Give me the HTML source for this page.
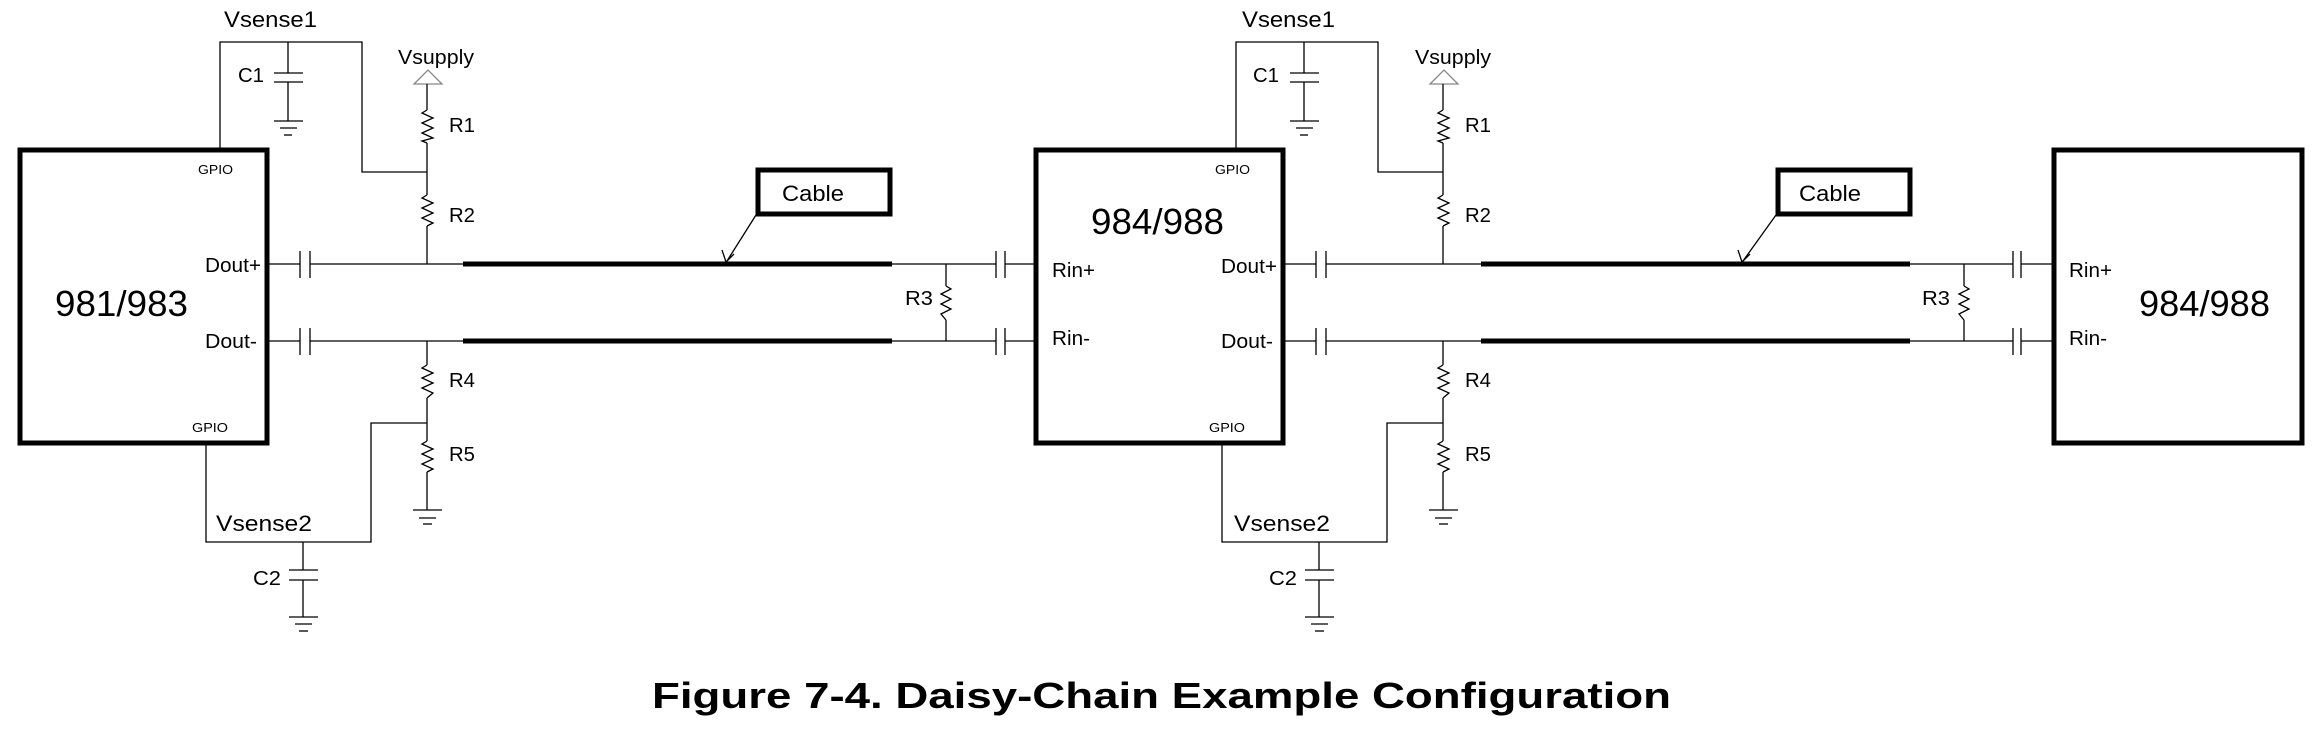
<!DOCTYPE html>
<html><head><meta charset="utf-8"><style>
html,body{margin:0;padding:0;background:#fff;}
svg{display:block;}
text{font-family:"Liberation Sans",Arial,sans-serif;fill:#000;}
</style></head><body>
<svg width="2323" height="731" viewBox="0 0 2323 731" xmlns="http://www.w3.org/2000/svg">
<defs></defs>
<g id="s1" stroke="#000" stroke-width="1.3" fill="none">
  <!-- chip box -->
  <rect x="20" y="150" width="247" height="293" stroke-width="5"/>
  <!-- Vsense1 wire -->
  <polyline points="220,148 220,42 362,42 362,172 427,172"/>
  <!-- C1 -->
  <line x1="288" y1="42" x2="288" y2="73"/>
  <line x1="274" y1="73" x2="303" y2="73"/>
  <line x1="274" y1="82" x2="303" y2="82"/>
  <line x1="288" y1="82" x2="288" y2="121"/>
  <line x1="274" y1="121" x2="303" y2="121"/>
  <line x1="280" y1="128" x2="297" y2="128"/>
  <line x1="284" y1="135" x2="292" y2="135"/>
  <!-- Vsupply -->
  <polygon points="414,84 442,84 428,70" stroke="#888"/>
  <line x1="427" y1="84" x2="427" y2="110"/>
  <polyline points="427,110 422,113 433,118 422,123 433,128 422,133 433,138 422,141 427,143"/>
  <line x1="427" y1="143" x2="427" y2="195"/>
  <polyline points="427,195 422,198 433,203 422,208 433,213 422,218 433,223 427,226"/>
  <line x1="427" y1="226" x2="427" y2="264"/>
  <!-- Dout+ line -->
  <line x1="267" y1="264" x2="300" y2="264"/>
  <line x1="300" y1="251" x2="300" y2="278"/>
  <line x1="310" y1="251" x2="310" y2="278"/>
  <line x1="310" y1="264" x2="463" y2="264"/>
  <!-- Dout- line -->
  <line x1="267" y1="341" x2="300" y2="341"/>
  <line x1="300" y1="328" x2="300" y2="355"/>
  <line x1="310" y1="328" x2="310" y2="355"/>
  <line x1="310" y1="341" x2="463" y2="341"/>
  <!-- R4/R5 -->
  <line x1="427" y1="341" x2="427" y2="365"/>
  <polyline points="427,365 422,368 433,373 422,378 433,383 422,388 433,393 427,398"/>
  <line x1="427" y1="398" x2="427" y2="441"/>
  <polyline points="427,441 422,444 433,449 422,454 433,459 422,464 433,469 427,472"/>
  <line x1="427" y1="472" x2="427" y2="510"/>
  <line x1="413" y1="510" x2="442" y2="510"/>
  <line x1="419" y1="518" x2="436" y2="518"/>
  <line x1="423" y1="524" x2="432" y2="524"/>
  <!-- Vsense2 -->
  <polyline points="427,423 371,423 371,542 206,542 206,444"/>
  <!-- C2 -->
  <line x1="303" y1="542" x2="303" y2="570"/>
  <line x1="289" y1="570" x2="318" y2="570"/>
  <line x1="289" y1="580" x2="318" y2="580"/>
  <line x1="303" y1="580" x2="303" y2="617"/>
  <line x1="289" y1="617" x2="318" y2="617"/>
  <line x1="295" y1="624" x2="312" y2="624"/>
  <line x1="299" y1="631" x2="308" y2="631"/>
  <!-- cable -->
  <line x1="463" y1="264" x2="892" y2="264" stroke-width="5"/>
  <line x1="463" y1="341" x2="892" y2="341" stroke-width="5"/>
  <rect x="758" y="170" width="132" height="44" stroke-width="5"/>
  <line x1="756" y1="215" x2="727" y2="261"/>
  <polyline points="722,250 726,262 734,254"/>
  <!-- receiver side -->
  <line x1="892" y1="264" x2="996" y2="264"/>
  <line x1="892" y1="341" x2="996" y2="341"/>
  <line x1="996" y1="251" x2="996" y2="278"/>
  <line x1="1005" y1="251" x2="1005" y2="278"/>
  <line x1="996" y1="328" x2="996" y2="355"/>
  <line x1="1005" y1="328" x2="1005" y2="355"/>
  <line x1="1005" y1="264" x2="1034" y2="264"/>
  <line x1="1005" y1="341" x2="1034" y2="341"/>
  <line x1="946" y1="264" x2="946" y2="286"/>
  <polyline points="946,286 951,289 941,294 951,299 941,304 951,309 941,314 946,320"/>
  <line x1="946" y1="320" x2="946" y2="341"/>
</g>
<g transform="translate(1016,0)">
<g stroke="#000" stroke-width="1.3" fill="none">
  <rect x="20" y="150" width="247" height="293" stroke-width="5"/>
  <polyline points="220,148 220,42 362,42 362,172 427,172"/>
  <line x1="288" y1="42" x2="288" y2="73"/>
  <line x1="274" y1="73" x2="303" y2="73"/>
  <line x1="274" y1="82" x2="303" y2="82"/>
  <line x1="288" y1="82" x2="288" y2="121"/>
  <line x1="274" y1="121" x2="303" y2="121"/>
  <line x1="280" y1="128" x2="297" y2="128"/>
  <line x1="284" y1="135" x2="292" y2="135"/>
  <polygon points="414,84 442,84 428,70" stroke="#888"/>
  <line x1="427" y1="84" x2="427" y2="110"/>
  <polyline points="427,110 422,113 433,118 422,123 433,128 422,133 433,138 422,141 427,143"/>
  <line x1="427" y1="143" x2="427" y2="195"/>
  <polyline points="427,195 422,198 433,203 422,208 433,213 422,218 433,223 427,226"/>
  <line x1="427" y1="226" x2="427" y2="264"/>
  <line x1="267" y1="264" x2="300" y2="264"/>
  <line x1="300" y1="251" x2="300" y2="278"/>
  <line x1="310" y1="251" x2="310" y2="278"/>
  <line x1="310" y1="264" x2="465" y2="264"/>
  <line x1="267" y1="341" x2="300" y2="341"/>
  <line x1="300" y1="328" x2="300" y2="355"/>
  <line x1="310" y1="328" x2="310" y2="355"/>
  <line x1="310" y1="341" x2="465" y2="341"/>
  <line x1="427" y1="341" x2="427" y2="365"/>
  <polyline points="427,365 422,368 433,373 422,378 433,383 422,388 433,393 427,398"/>
  <line x1="427" y1="398" x2="427" y2="441"/>
  <polyline points="427,441 422,444 433,449 422,454 433,459 422,464 433,469 427,472"/>
  <line x1="427" y1="472" x2="427" y2="510"/>
  <line x1="413" y1="510" x2="442" y2="510"/>
  <line x1="419" y1="518" x2="436" y2="518"/>
  <line x1="423" y1="524" x2="432" y2="524"/>
  <polyline points="427,423 371,423 371,542 206,542 206,444"/>
  <line x1="303" y1="542" x2="303" y2="570"/>
  <line x1="289" y1="570" x2="318" y2="570"/>
  <line x1="289" y1="580" x2="318" y2="580"/>
  <line x1="303" y1="580" x2="303" y2="617"/>
  <line x1="289" y1="617" x2="318" y2="617"/>
  <line x1="295" y1="624" x2="312" y2="624"/>
  <line x1="299" y1="631" x2="308" y2="631"/>
  <line x1="465" y1="264" x2="894" y2="264" stroke-width="5"/>
  <line x1="465" y1="341" x2="894" y2="341" stroke-width="5"/>
  <rect x="762" y="170" width="132" height="44" stroke-width="5"/>
  <line x1="760" y1="215" x2="727" y2="261"/>
  <polyline points="722,250 726,262 734,254"/>
  <line x1="894" y1="264" x2="997" y2="264"/>
  <line x1="894" y1="341" x2="997" y2="341"/>
  <line x1="997" y1="251" x2="997" y2="278"/>
  <line x1="1005" y1="251" x2="1005" y2="278"/>
  <line x1="997" y1="328" x2="997" y2="355"/>
  <line x1="1005" y1="328" x2="1005" y2="355"/>
  <line x1="1005" y1="264" x2="1036" y2="264"/>
  <line x1="1005" y1="341" x2="1036" y2="341"/>
  <line x1="948" y1="264" x2="948" y2="286"/>
  <polyline points="948,286 953,289 943,294 953,299 943,304 953,309 943,314 948,320"/>
  <line x1="948" y1="320" x2="948" y2="341"/>
  <rect x="1038" y="150" width="248" height="293" stroke-width="5"/>
</g>
</g>
<!-- Labels stage 1 -->
<g font-size="20">
<text x="224" y="27" font-size="22" textLength="93" lengthAdjust="spacingAndGlyphs">Vsense1</text>
<text x="398" y="64" textLength="76" lengthAdjust="spacingAndGlyphs">Vsupply</text>
<text x="238" y="82" textLength="26" lengthAdjust="spacingAndGlyphs">C1</text>
<text x="449" y="132" textLength="26" lengthAdjust="spacingAndGlyphs">R1</text>
<text x="449" y="222" textLength="26" lengthAdjust="spacingAndGlyphs">R2</text>
<text x="449" y="387" textLength="26" lengthAdjust="spacingAndGlyphs">R4</text>
<text x="449" y="461" textLength="26" lengthAdjust="spacingAndGlyphs">R5</text>
<text x="198" y="174" font-size="13" textLength="35" lengthAdjust="spacingAndGlyphs">GPIO</text>
<text x="192" y="432" font-size="13" textLength="36" lengthAdjust="spacingAndGlyphs">GPIO</text>
<text x="205" y="272" textLength="56" lengthAdjust="spacingAndGlyphs">Dout+</text>
<text x="205" y="348" textLength="52" lengthAdjust="spacingAndGlyphs">Dout-</text>
<text x="55" y="316" font-size="36" textLength="133" lengthAdjust="spacingAndGlyphs">981/983</text>
<text x="782" y="201" font-size="22" textLength="62" lengthAdjust="spacingAndGlyphs">Cable</text>
<text x="1052" y="277" textLength="43" lengthAdjust="spacingAndGlyphs">Rin+</text>
<text x="1052" y="345" textLength="38" lengthAdjust="spacingAndGlyphs">Rin-</text>
<text x="905" y="305" textLength="28" lengthAdjust="spacingAndGlyphs">R3</text>
<text x="216" y="531" font-size="22" textLength="96" lengthAdjust="spacingAndGlyphs">Vsense2</text>
<text x="253" y="585" textLength="28" lengthAdjust="spacingAndGlyphs">C2</text>
</g>
<!-- Labels stage 2 -->
<g font-size="20">
<text x="1242" y="27" font-size="22" textLength="93" lengthAdjust="spacingAndGlyphs">Vsense1</text>
<text x="1415" y="64" textLength="76" lengthAdjust="spacingAndGlyphs">Vsupply</text>
<text x="1253" y="82" textLength="26" lengthAdjust="spacingAndGlyphs">C1</text>
<text x="1465" y="132" textLength="26" lengthAdjust="spacingAndGlyphs">R1</text>
<text x="1465" y="222" textLength="26" lengthAdjust="spacingAndGlyphs">R2</text>
<text x="1465" y="387" textLength="26" lengthAdjust="spacingAndGlyphs">R4</text>
<text x="1465" y="461" textLength="26" lengthAdjust="spacingAndGlyphs">R5</text>
<text x="1215" y="174" font-size="13" textLength="35" lengthAdjust="spacingAndGlyphs">GPIO</text>
<text x="1209" y="432" font-size="13" textLength="36" lengthAdjust="spacingAndGlyphs">GPIO</text>
<text x="1221" y="273" textLength="56" lengthAdjust="spacingAndGlyphs">Dout+</text>
<text x="1221" y="348" textLength="52" lengthAdjust="spacingAndGlyphs">Dout-</text>
<text x="1091" y="234" font-size="36" textLength="133" lengthAdjust="spacingAndGlyphs">984/988</text>
<text x="1799" y="201" font-size="22" textLength="62" lengthAdjust="spacingAndGlyphs">Cable</text>
<text x="2069" y="277" textLength="43" lengthAdjust="spacingAndGlyphs">Rin+</text>
<text x="2069" y="345" textLength="38" lengthAdjust="spacingAndGlyphs">Rin-</text>
<text x="1922" y="305" textLength="28" lengthAdjust="spacingAndGlyphs">R3</text>
<text x="2139" y="316" font-size="36" textLength="131" lengthAdjust="spacingAndGlyphs">984/988</text>
<text x="1234" y="531" font-size="22" textLength="96" lengthAdjust="spacingAndGlyphs">Vsense2</text>
<text x="1269" y="585" textLength="28" lengthAdjust="spacingAndGlyphs">C2</text>
</g>
<text x="652" y="708" font-size="36" font-weight="bold" textLength="1019" lengthAdjust="spacingAndGlyphs">Figure 7-4. Daisy-Chain Example Configuration</text>
</svg>
</body></html>
